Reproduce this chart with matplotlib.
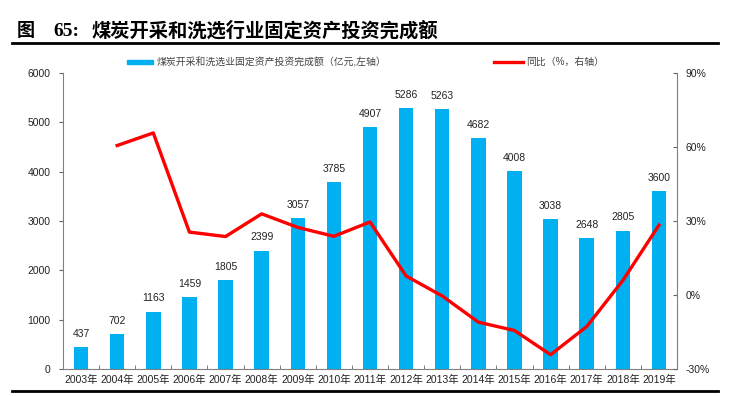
import matplotlib
matplotlib.use("Agg")
import matplotlib.pyplot as plt
from matplotlib.lines import Line2D
from matplotlib.patches import Rectangle

years = ["2003年", "2004年", "2005年", "2006年", "2007年", "2008年", "2009年", "2010年",
         "2011年", "2012年", "2013年", "2014年", "2015年", "2016年", "2017年", "2018年", "2019年"]
invest = [437, 702, 1163, 1459, 1805, 2399, 3057, 3785, 4907, 5286, 5263, 4682, 4008, 3038, 2648, 2805, 3600]
yoy_years_idx = list(range(1, 17))
yoy = [60.6, 65.7, 25.5, 23.7, 32.9, 27.4, 23.8, 29.6, 7.7, -0.4, -11.0, -14.4, -24.2, -12.8, 5.9, 28.3]

title_a = "图"
title_b = "65:"
title_c = "煤炭开采和洗选行业固定资产投资完成额"
bar_label = "煤炭开采和洗选业固定资产投资完成额（亿元,左轴）"
line_label = "同比（%，右轴）"

FONT = ["Liberation Sans", "Noto Sans CJK SC", "DejaVu Sans"]
plt.rcParams["font.family"] = FONT

W, H = 731, 396
fig = plt.figure(figsize=(W / 100, H / 100), dpi=100)

ax = fig.add_axes([63 / W, (H - 369) / H, 614 / W, 296 / H])
x = list(range(len(years)))
ax.bar(x, invest, width=0.4, color="#00B0F0", zorder=2)
for xi, v in zip(x, invest):
    ax.annotate(str(v), (xi, v), xytext=(0, 6), textcoords="offset points",
                ha="center", va="bottom", fontsize=7.5, color="#222222")
ax.set_xlim(-0.5, len(years) - 0.5)
ax.set_ylim(0, 6000)
ax.set_yticks(range(0, 6001, 1000))
ax.set_xticks(x)
ax.set_xticklabels(years, fontsize=7.5, color="#222222")
ax.set_xticks([i + 0.5 for i in range(-1, len(years))], minor=True)
ax.tick_params(axis="x", which="major", length=0, pad=4)
ax.tick_params(axis="x", which="minor", length=3, direction="in", color="#666666")
ax.tick_params(axis="y", length=3, direction="out", color="#666666", labelsize=7.5,
               labelcolor="#222222", pad=6)
for s in ["top", "right"]:
    ax.spines[s].set_visible(False)
for s in ["left", "bottom"]:
    ax.spines[s].set_color("#808080")

ax2 = ax.twinx()
ax2.plot(yoy_years_idx, yoy, color="#FF0000", lw=2.4, zorder=3)
ax2.set_ylim(-30, 90)
ax2.set_yticks(range(-30, 91, 30))
ax2.set_yticklabels([f"{v}%" for v in range(-30, 91, 30)])
ax2.tick_params(axis="y", length=3, direction="in", color="#666666", labelsize=7.5,
                labelcolor="#222222", pad=6)
for s in ["top", "left", "bottom"]:
    ax2.spines[s].set_visible(False)
ax2.spines["right"].set_color("#808080")

# title and rules
ty = 1 - 31 / H
fig.text(17 / W, ty, title_a, fontsize=13, fontweight="bold", ha="left", va="center",
         family=["Noto Sans CJK SC", "DejaVu Sans"])
fig.text(53 / W, ty, title_b, fontsize=14, fontweight="bold", ha="left", va="center",
         family=["Liberation Serif", "DejaVu Serif"])
fig.text(91 / W, ty, title_c, fontsize=13.9, fontweight="bold", ha="left", va="center",
         family=["Noto Sans CJK SC", "DejaVu Sans"])
fig.add_artist(Line2D([12 / W, 718 / W], [1 - 43 / H, 1 - 43 / H], color="black", lw=2))
fig.add_artist(Line2D([12 / W, 718 / W], [1 - 391 / H, 1 - 391 / H], color="black", lw=2))

# legend
fig.add_artist(Rectangle((127 / W, 1 - 63.5 / H), 26 / W, 3.5 / H, color="#00B0F0",
                         transform=fig.transFigure))
fig.text(157 / W, 1 - 62 / H, bar_label, fontsize=7.1, ha="left", va="center", color="#444444")
fig.add_artist(Line2D([494 / W, 523 / W], [1 - 62 / H, 1 - 62 / H], color="#FF0000", lw=2.4))
fig.text(526 / W, 1 - 62 / H, line_label, fontsize=7.1, ha="left", va="center", color="#444444")

fig.savefig("out.png", dpi=100)
